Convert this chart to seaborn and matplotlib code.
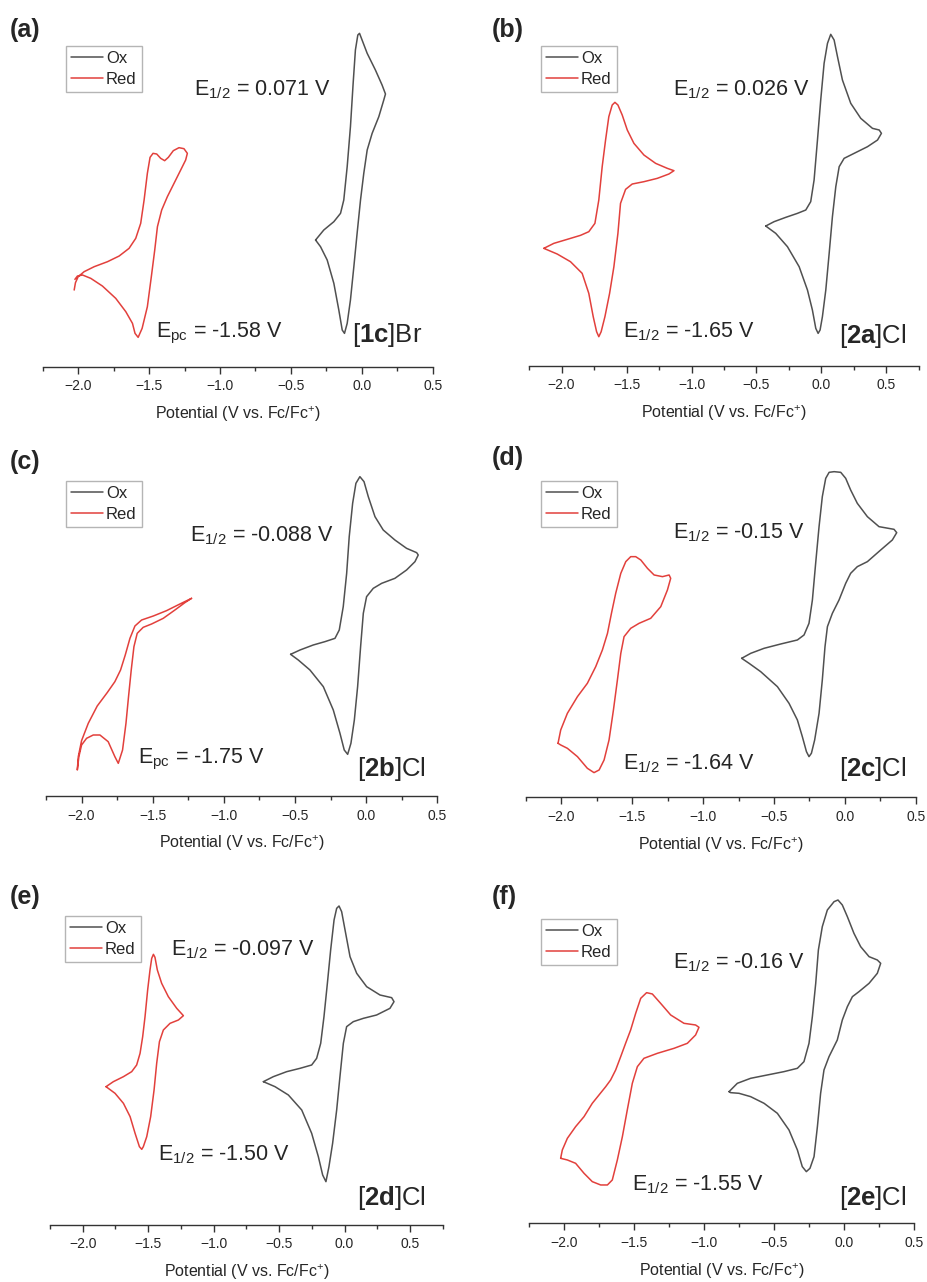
import matplotlib
matplotlib.use("Agg")
import matplotlib.pyplot as plt
import seaborn as sns
import pandas as pd
from matplotlib.ticker import MultipleLocator

# ---- traced CV loops: potential (V vs Fc/Fc+) and current (a.u.) ----
a_ox_v = [-0.326, -0.268, -0.197, -0.150, -0.127, -0.103, -0.080, -0.061, -0.045, -0.028,
          -0.016, 0.002, 0.038, 0.096, 0.143, 0.167, 0.155, 0.120, 0.073, 0.038,
          0.014, -0.009, -0.033, -0.056, -0.080, -0.103, -0.122, -0.138, -0.162, -0.197,
          -0.244, -0.291, -0.326]
a_ox_i = [380, 410, 435, 460, 500, 600, 720, 850, 950, 995, 1000, 980, 940, 890, 845, 818,
          800, 750, 700, 650, 580, 500, 400, 300, 200, 130, 100, 110, 170, 250, 320, 360,
          380]
a_red_v = [-2.028, -2.019, -2.000, -1.958, -1.887, -1.793, -1.711, -1.641, -1.594, -1.559,
           -1.535, -1.512, -1.493, -1.472, -1.446, -1.418, -1.390, -1.364, -1.329, -1.289,
           -1.254, -1.230, -1.242, -1.277, -1.324, -1.371, -1.411, -1.441, -1.460, -1.484,
           -1.512, -1.549, -1.577, -1.599, -1.617, -1.664, -1.735, -1.829, -1.911, -1.969,
           -2.005, -2.023]
a_red_i = [230, 252, 270, 285, 300, 315, 332, 355, 385, 430, 500, 580, 628, 640, 638, 625,
           618, 628, 648, 657, 654, 640, 620, 590, 550, 510, 470, 420, 350, 270, 180, 115,
           88, 100, 130, 165, 205, 242, 265, 275, 272, 262]

b_ox_v = [-0.429, -0.365, -0.275, -0.185, -0.121, -0.083, -0.057, -0.031, -0.006, 0.020,
          0.046, 0.071, 0.097, 0.123, 0.161, 0.225, 0.302, 0.392, 0.444, 0.461,
          0.431, 0.354, 0.251, 0.174, 0.136, 0.110, 0.084, 0.059, 0.033, 0.007,
          -0.011, -0.026, -0.044, -0.070, -0.108, -0.172, -0.262, -0.352, -0.429]
b_ox_i = [419, 432, 445, 457, 467, 492, 557, 677, 797, 907, 967, 994, 977, 927, 857, 787,
          742, 712, 707, 697, 677, 657, 637, 622, 597, 537, 447, 337, 227, 147, 107, 97,
          112, 167, 227, 297, 357, 397, 419]
b_red_v = [-2.136, -2.059, -1.956, -1.854, -1.790, -1.743, -1.713, -1.687, -1.661, -1.636,
           -1.610, -1.589, -1.566, -1.533, -1.494, -1.443, -1.366, -1.276, -1.186, -1.135,
           -1.174, -1.263, -1.366, -1.456, -1.507, -1.546, -1.566, -1.597, -1.630, -1.666,
           -1.695, -1.713, -1.730, -1.756, -1.790, -1.841, -1.931, -2.033, -2.136]
b_red_i = [352, 367, 379, 391, 402, 427, 497, 597, 677, 747, 782, 790, 782, 752, 707, 667,
           632, 607, 592, 585, 575, 562, 552, 545, 529, 487, 397, 297, 217, 147, 102, 87,
           102, 147, 217, 277, 312, 335, 352]

c_ox_v = [-0.531, -0.465, -0.372, -0.290, -0.219, -0.189, -0.161, -0.137, -0.119, -0.095,
          -0.072, -0.044, -0.015, 0.015, 0.062, 0.120, 0.202, 0.284, 0.355, 0.366,
          0.343, 0.284, 0.202, 0.109, 0.050, 0.003, -0.020, -0.039, -0.060, -0.083,
          -0.107, -0.130, -0.154, -0.184, -0.231, -0.301, -0.395, -0.477, -0.531]
c_ox_i = [425, 438, 453, 463, 473, 498, 568, 668, 778, 878, 938, 958, 943, 898, 838, 798,
          768, 743, 730, 723, 703, 678, 653, 638, 623, 598, 548, 448, 328, 228, 158, 125,
          138, 188, 258, 328, 378, 408, 425]
c_red_v = [-1.227, -1.274, -1.344, -1.426, -1.508, -1.567, -1.609, -1.632, -1.651, -1.670,
           -1.688, -1.712, -1.742, -1.766, -1.813, -1.871, -1.918, -1.965, -2.000, -2.019,
           -2.030, -2.023, -2.000, -1.953, -1.890, -1.820, -1.766, -1.726, -1.693, -1.660,
           -1.625, -1.578, -1.496, -1.403, -1.309, -1.227]
c_red_i = [593, 580, 558, 533, 516, 506, 488, 448, 378, 298, 218, 138, 98, 118, 163, 183,
           183, 173, 153, 118, 78, 118, 166, 218, 270, 310, 343, 378, 423, 473, 510, 528,
           540, 556, 576, 593]

d_ox_v = [-0.728, -0.664, -0.570, -0.452, -0.335, -0.288, -0.253, -0.229, -0.206, -0.182,
          -0.159, -0.135, -0.111, -0.076, -0.029, 0.006, 0.041, 0.088, 0.159, 0.241,
          0.347, 0.366, 0.335, 0.253, 0.159, 0.088, 0.041, 0.006, -0.041, -0.088,
          -0.123, -0.140, -0.159, -0.182, -0.213, -0.236, -0.253, -0.271, -0.300, -0.335,
          -0.394, -0.476, -0.594, -0.676, -0.728]
d_ox_i = [417, 432, 447, 460, 472, 487, 522, 592, 702, 812, 902, 957, 975, 977, 975, 957,
          922, 882, 842, 812, 804, 794, 772, 742, 707, 692, 672, 642, 592, 552, 512, 452,
          352, 252, 172, 132, 122, 137, 182, 232, 282, 332, 377, 402, 417]
d_red_v = [-2.024, -2.005, -1.958, -1.887, -1.817, -1.758, -1.711, -1.675, -1.647, -1.617,
           -1.581, -1.546, -1.511, -1.476, -1.440, -1.393, -1.346, -1.287, -1.240, -1.229,
           -1.252, -1.299, -1.370, -1.452, -1.511, -1.558, -1.581, -1.605, -1.633, -1.664,
           -1.699, -1.734, -1.770, -1.817, -1.887, -1.958, -2.005, -2.024]
d_red_i = [162, 202, 252, 302, 342, 392, 442, 492, 552, 612, 672, 707, 722, 722, 712, 687,
           667, 662, 667, 657, 622, 572, 537, 522, 507, 482, 432, 352, 262, 172, 112, 82,
           74, 87, 122, 147, 157, 162]

e_ox_v = [-0.620, -0.544, -0.442, -0.340, -0.251, -0.213, -0.182, -0.157, -0.131, -0.106,
          -0.080, -0.060, -0.042, -0.022, 0.004, 0.042, 0.093, 0.169, 0.271, 0.360,
          0.378, 0.347, 0.245, 0.144, 0.067, 0.016, -0.009, -0.035, -0.060, -0.091,
          -0.119, -0.142, -0.167, -0.200, -0.251, -0.327, -0.429, -0.531, -0.620]
e_ox_i = [430, 445, 460, 470, 480, 500, 545, 625, 725, 825, 915, 950, 957, 940, 885, 805,
          755, 715, 690, 682, 670, 650, 630, 620, 610, 595, 545, 445, 345, 245, 175, 130,
          150, 205, 275, 345, 390, 415, 430]
e_red_v = [-1.822, -1.766, -1.689, -1.626, -1.588, -1.562, -1.542, -1.524, -1.504, -1.486,
           -1.473, -1.460, -1.448, -1.430, -1.397, -1.346, -1.282, -1.231, -1.269, -1.333,
           -1.384, -1.414, -1.435, -1.455, -1.481, -1.511, -1.537, -1.549, -1.567, -1.600,
           -1.638, -1.689, -1.753, -1.822]
e_red_i = [415, 430, 445, 460, 480, 515, 565, 625, 705, 765, 800, 812, 803, 765, 725, 685,
           650, 628, 615, 605, 585, 550, 485, 405, 325, 265, 235, 227, 235, 275, 325, 365,
           395, 415]

f_ox_v = [-0.821, -0.762, -0.667, -0.548, -0.429, -0.333, -0.286, -0.250, -0.226, -0.202,
          -0.183, -0.155, -0.119, -0.071, -0.043, -0.012, 0.024, 0.071, 0.119, 0.179,
          0.238, 0.262, 0.238, 0.179, 0.107, 0.060, 0.024, -0.012, -0.048, -0.107,
          -0.143, -0.167, -0.190, -0.214, -0.243, -0.269, -0.298, -0.333, -0.393, -0.476,
          -0.571, -0.667, -0.750, -0.810, -0.821]
f_ox_i = [395, 420, 435, 445, 455, 465, 485, 540, 620, 720, 820, 890, 940, 965, 970, 955,
          920, 870, 830, 800, 790, 780, 750, 720, 695, 680, 650, 610, 550, 500, 460, 390,
          290, 200, 165, 155, 170, 220, 280, 330, 360, 380, 390, 392, 395]
f_red_v = [-2.024, -2.012, -1.976, -1.917, -1.857, -1.798, -1.750, -1.702, -1.667, -1.631,
           -1.595, -1.560, -1.524, -1.488, -1.452, -1.410, -1.369, -1.310, -1.238, -1.143,
           -1.060, -1.036, -1.060, -1.119, -1.214, -1.333, -1.429, -1.476, -1.512, -1.548,
           -1.583, -1.619, -1.655, -1.690, -1.738, -1.798, -1.857, -1.917, -1.976, -2.024]
f_red_i = [195, 220, 255, 290, 320, 360, 385, 410, 430, 460, 500, 540, 580, 630, 675, 692,
           688, 660, 625, 600, 595, 588, 565, 540, 525, 510, 495, 470, 420, 340, 260, 190,
           130, 115, 115, 125, 150, 180, 190, 195]

panel_tags = ["(a)", "(b)", "(c)", "(d)", "(e)", "(f)"]
compounds = [r"[$\mathbf{1c}$]Br", r"[$\mathbf{2a}$]Cl", r"[$\mathbf{2b}$]Cl",
             r"[$\mathbf{2c}$]Cl", r"[$\mathbf{2d}$]Cl", r"[$\mathbf{2e}$]Cl"]
ox_notes = [r"E$_{1/2}$ = 0.071 V", r"E$_{1/2}$ = 0.026 V", r"E$_{1/2}$ = -0.088 V",
            r"E$_{1/2}$ = -0.15 V", r"E$_{1/2}$ = -0.097 V", r"E$_{1/2}$ = -0.16 V"]
red_notes = [r"E$_{\mathrm{pc}}$ = -1.58 V", r"E$_{1/2}$ = -1.65 V", r"E$_{\mathrm{pc}}$ = -1.75 V",
             r"E$_{1/2}$ = -1.64 V", r"E$_{1/2}$ = -1.50 V", r"E$_{1/2}$ = -1.55 V"]
scan_names = ["Ox", "Red"]

curves = [(a_ox_v, a_ox_i, a_red_v, a_red_i), (b_ox_v, b_ox_i, b_red_v, b_red_i),
          (c_ox_v, c_ox_i, c_red_v, c_red_i), (d_ox_v, d_ox_i, d_red_v, d_red_i),
          (e_ox_v, e_ox_i, e_red_v, e_red_i), (f_ox_v, f_ox_i, f_red_v, f_red_i)]

# ---- layout (pixels in the 928x1282 canvas) ----
axes_px = [(42.7, 0, 432.7, 366.7), (529, 0, 919, 365.7), (46, 420, 437.3, 796),
           (526, 420, 915.7, 797.3), (50, 850, 442.7, 1225), (529, 850, 914, 1223.3)]
x_right = [0.5, 0.75, 0.5, 0.5, 0.75, 0.5]
y_top = [1100, 1097, 1128, 1132, 1125, 1120]
tag_px = [(10, 18), (492, 18), (10, 450), (492, 446), (10, 885), (492, 885)]
legend_px = [(66, 46), (541, 46), (66, 481), (541, 481), (65, 916), (541, 919)]
ox_note_px = [(194, 95), (673, 95), (190, 541), (673, 538), (171, 955), (673, 968)]
red_note_px = [(156, 337), (623, 337), (138, 763), (623, 769), (158, 1160), (632, 1190)]
compound_px = [(352, 342), (839, 343), (357, 776), (839, 776), (357, 1205), (839, 1205)]

sns.set_style("white")
plt.rcParams['font.family'] = ['Liberation Sans', 'DejaVu Sans']
plt.rcParams['mathtext.fontset'] = 'custom'
plt.rcParams['mathtext.rm'] = 'Liberation Sans'
plt.rcParams['mathtext.it'] = 'Liberation Sans:italic'
plt.rcParams['mathtext.bf'] = 'Liberation Sans:bold'

W, H = 928, 1282
fig = plt.figure(figsize=(W / 100, H / 100), dpi=100)
palette = {"Ox": "#505050", "Red": "#e2403c"}


def fx(x):
    return x / W


def fy(y):
    return 1 - y / H


for k in range(6):
    l, t, r, b = axes_px[k]
    ax = fig.add_axes([fx(l), fy(b), (r - l) / W, (b - t) / H])
    ox_v, ox_i, red_v, red_i = curves[k]
    df = pd.DataFrame({
        "Potential": ox_v + red_v,
        "Current": ox_i + red_i,
        "Scan": ["Ox"] * len(ox_v) + ["Red"] * len(red_v),
    })
    sns.lineplot(data=df, x="Potential", y="Current", hue="Scan", palette=palette,
                 sort=False, estimator=None, linewidth=1.1, legend=False, ax=ax)
    for ln in ax.get_lines():
        ln.set_solid_joinstyle("round")
    ax.set_xlim(-2.25, x_right[k])
    ax.set_ylim(0, y_top[k])
    ax.patch.set_alpha(0)
    for s in ["left", "top", "right"]:
        ax.spines[s].set_visible(False)
    ax.spines["bottom"].set_color("#333333")
    ax.spines["bottom"].set_linewidth(1.0)
    ax.set_yticks([])
    ax.set_ylabel("")
    ax.xaxis.set_major_locator(MultipleLocator(0.5))
    ax.xaxis.set_minor_locator(MultipleLocator(0.25))
    ax.tick_params(axis="x", which="major", direction="out", length=5, width=1,
                   color="#333333", labelsize=10, pad=4, bottom=True)
    ax.tick_params(axis="x", which="minor", direction="out", length=3, width=1,
                   color="#333333", bottom=True)
    ax.set_xlabel(r"Potential (V vs. Fc/Fc$^{+}$)", fontsize=11.5, labelpad=8)

    handles = ax.get_lines()[:2]
    ax.legend(handles, scan_names, loc="upper left",
              bbox_to_anchor=(fx(legend_px[k][0]), fy(legend_px[k][1])),
              bbox_transform=fig.transFigure, borderaxespad=0, fontsize=12,
              frameon=True, fancybox=False, edgecolor="#b5b5b5", framealpha=1,
              handlelength=1.9, handletextpad=0.2, labelspacing=0.35, borderpad=0.3)

    fig.text(fx(tag_px[k][0]), fy(tag_px[k][1]), panel_tags[k], fontsize=18,
             fontweight="bold", va="top", ha="left")
    fig.text(fx(ox_note_px[k][0]), fy(ox_note_px[k][1]), ox_notes[k], fontsize=15.5,
             va="baseline", ha="left")
    fig.text(fx(red_note_px[k][0]), fy(red_note_px[k][1]), red_notes[k], fontsize=15.5,
             va="baseline", ha="left")
    fig.text(fx(compound_px[k][0]), fy(compound_px[k][1]), compounds[k], fontsize=18.5,
             va="baseline", ha="left")

fig.savefig("out.png", dpi=100)
